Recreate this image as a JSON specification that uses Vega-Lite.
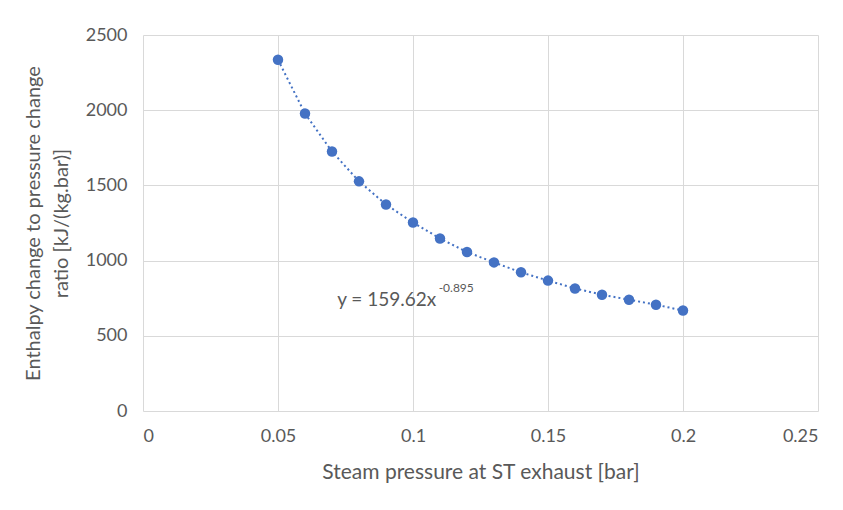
{
  "$schema": "https://vega.github.io/schema/vega-lite/v6.json",
  "autosize": {"type": "none"},
  "width": 675,
  "height": 376,
  "padding": {"left": 143, "top": 35, "right": 25, "bottom": 99},
  "background": "white",
  "config": {
    "font": "Lato",
    "view": {"stroke": null},
    "axis": {"labelFont": "Lato", "titleFont": "Lato", "labelColor": "#595959", "titleColor": "#595959", "labelFontSize": 18, "titleFontSize": 20, "titleFontWeight": "normal", "gridColor": "#d9d9d9", "domain": false, "ticks": false}
  },
  "datasets": {
    "pts": [
      {"p": 0.05, "r": 2335},
      {"p": 0.06, "r": 1978},
      {"p": 0.07, "r": 1725},
      {"p": 0.08, "r": 1527},
      {"p": 0.09, "r": 1373},
      {"p": 0.10, "r": 1253},
      {"p": 0.11, "r": 1147},
      {"p": 0.12, "r": 1057},
      {"p": 0.13, "r": 988},
      {"p": 0.14, "r": 922},
      {"p": 0.15, "r": 867},
      {"p": 0.16, "r": 815},
      {"p": 0.17, "r": 773},
      {"p": 0.18, "r": 740},
      {"p": 0.19, "r": 707},
      {"p": 0.20, "r": 668}
    ],
    "ann": [
      {"p": 0.0719, "r": 738, "t": "y = 159.62x", "kind": "main"},
      {"p": 0.1095, "r": 815, "t": "-0.895", "kind": "sup"}
    ]
  },
  "layer": [
    {
      "data": {"name": "pts"},
      "mark": {"type": "line", "color": "#4472C4", "strokeDash": [2, 3], "strokeWidth": 2},
      "encoding": {
        "x": {"field": "p", "type": "quantitative", "scale": {"domain": [0, 0.25], "nice": false}, "axis": {"values": [0, 0.05, 0.1, 0.15, 0.2, 0.25], "format": "~g", "title": "Steam pressure at ST exhaust  [bar]", "labelPadding": 16, "titlePadding": 16, "titleFontSize": 21}},
        "y": {"field": "r", "type": "quantitative", "scale": {"domain": [0, 2500], "nice": false}, "axis": {"values": [0, 500, 1000, 1500, 2000, 2500], "format": "d", "title": ["Enthalpy change to pressure change", "ratio [kJ/(kg.bar)]"], "labelPadding": 16, "titlePadding": 14, "titleLineHeight": 28}}
      }
    },
    {
      "data": {"name": "pts"},
      "mark": {"type": "circle", "color": "#4472C4", "size": 110, "opacity": 1},
      "encoding": {
        "x": {"field": "p", "type": "quantitative"},
        "y": {"field": "r", "type": "quantitative"}
      }
    },
    {
      "data": {"name": "ann"},
      "transform": [{"filter": "datum.kind == 'main'"}],
      "mark": {"type": "text", "fontSize": 19, "color": "#595959", "align": "left", "baseline": "middle"},
      "encoding": {
        "x": {"field": "p", "type": "quantitative"},
        "y": {"field": "r", "type": "quantitative"},
        "text": {"field": "t"}
      }
    },
    {
      "data": {"name": "ann"},
      "transform": [{"filter": "datum.kind == 'sup'"}],
      "mark": {"type": "text", "fontSize": 12, "color": "#595959", "align": "left", "baseline": "middle"},
      "encoding": {
        "x": {"field": "p", "type": "quantitative"},
        "y": {"field": "r", "type": "quantitative"},
        "text": {"field": "t"}
      }
    }
  ]
}
